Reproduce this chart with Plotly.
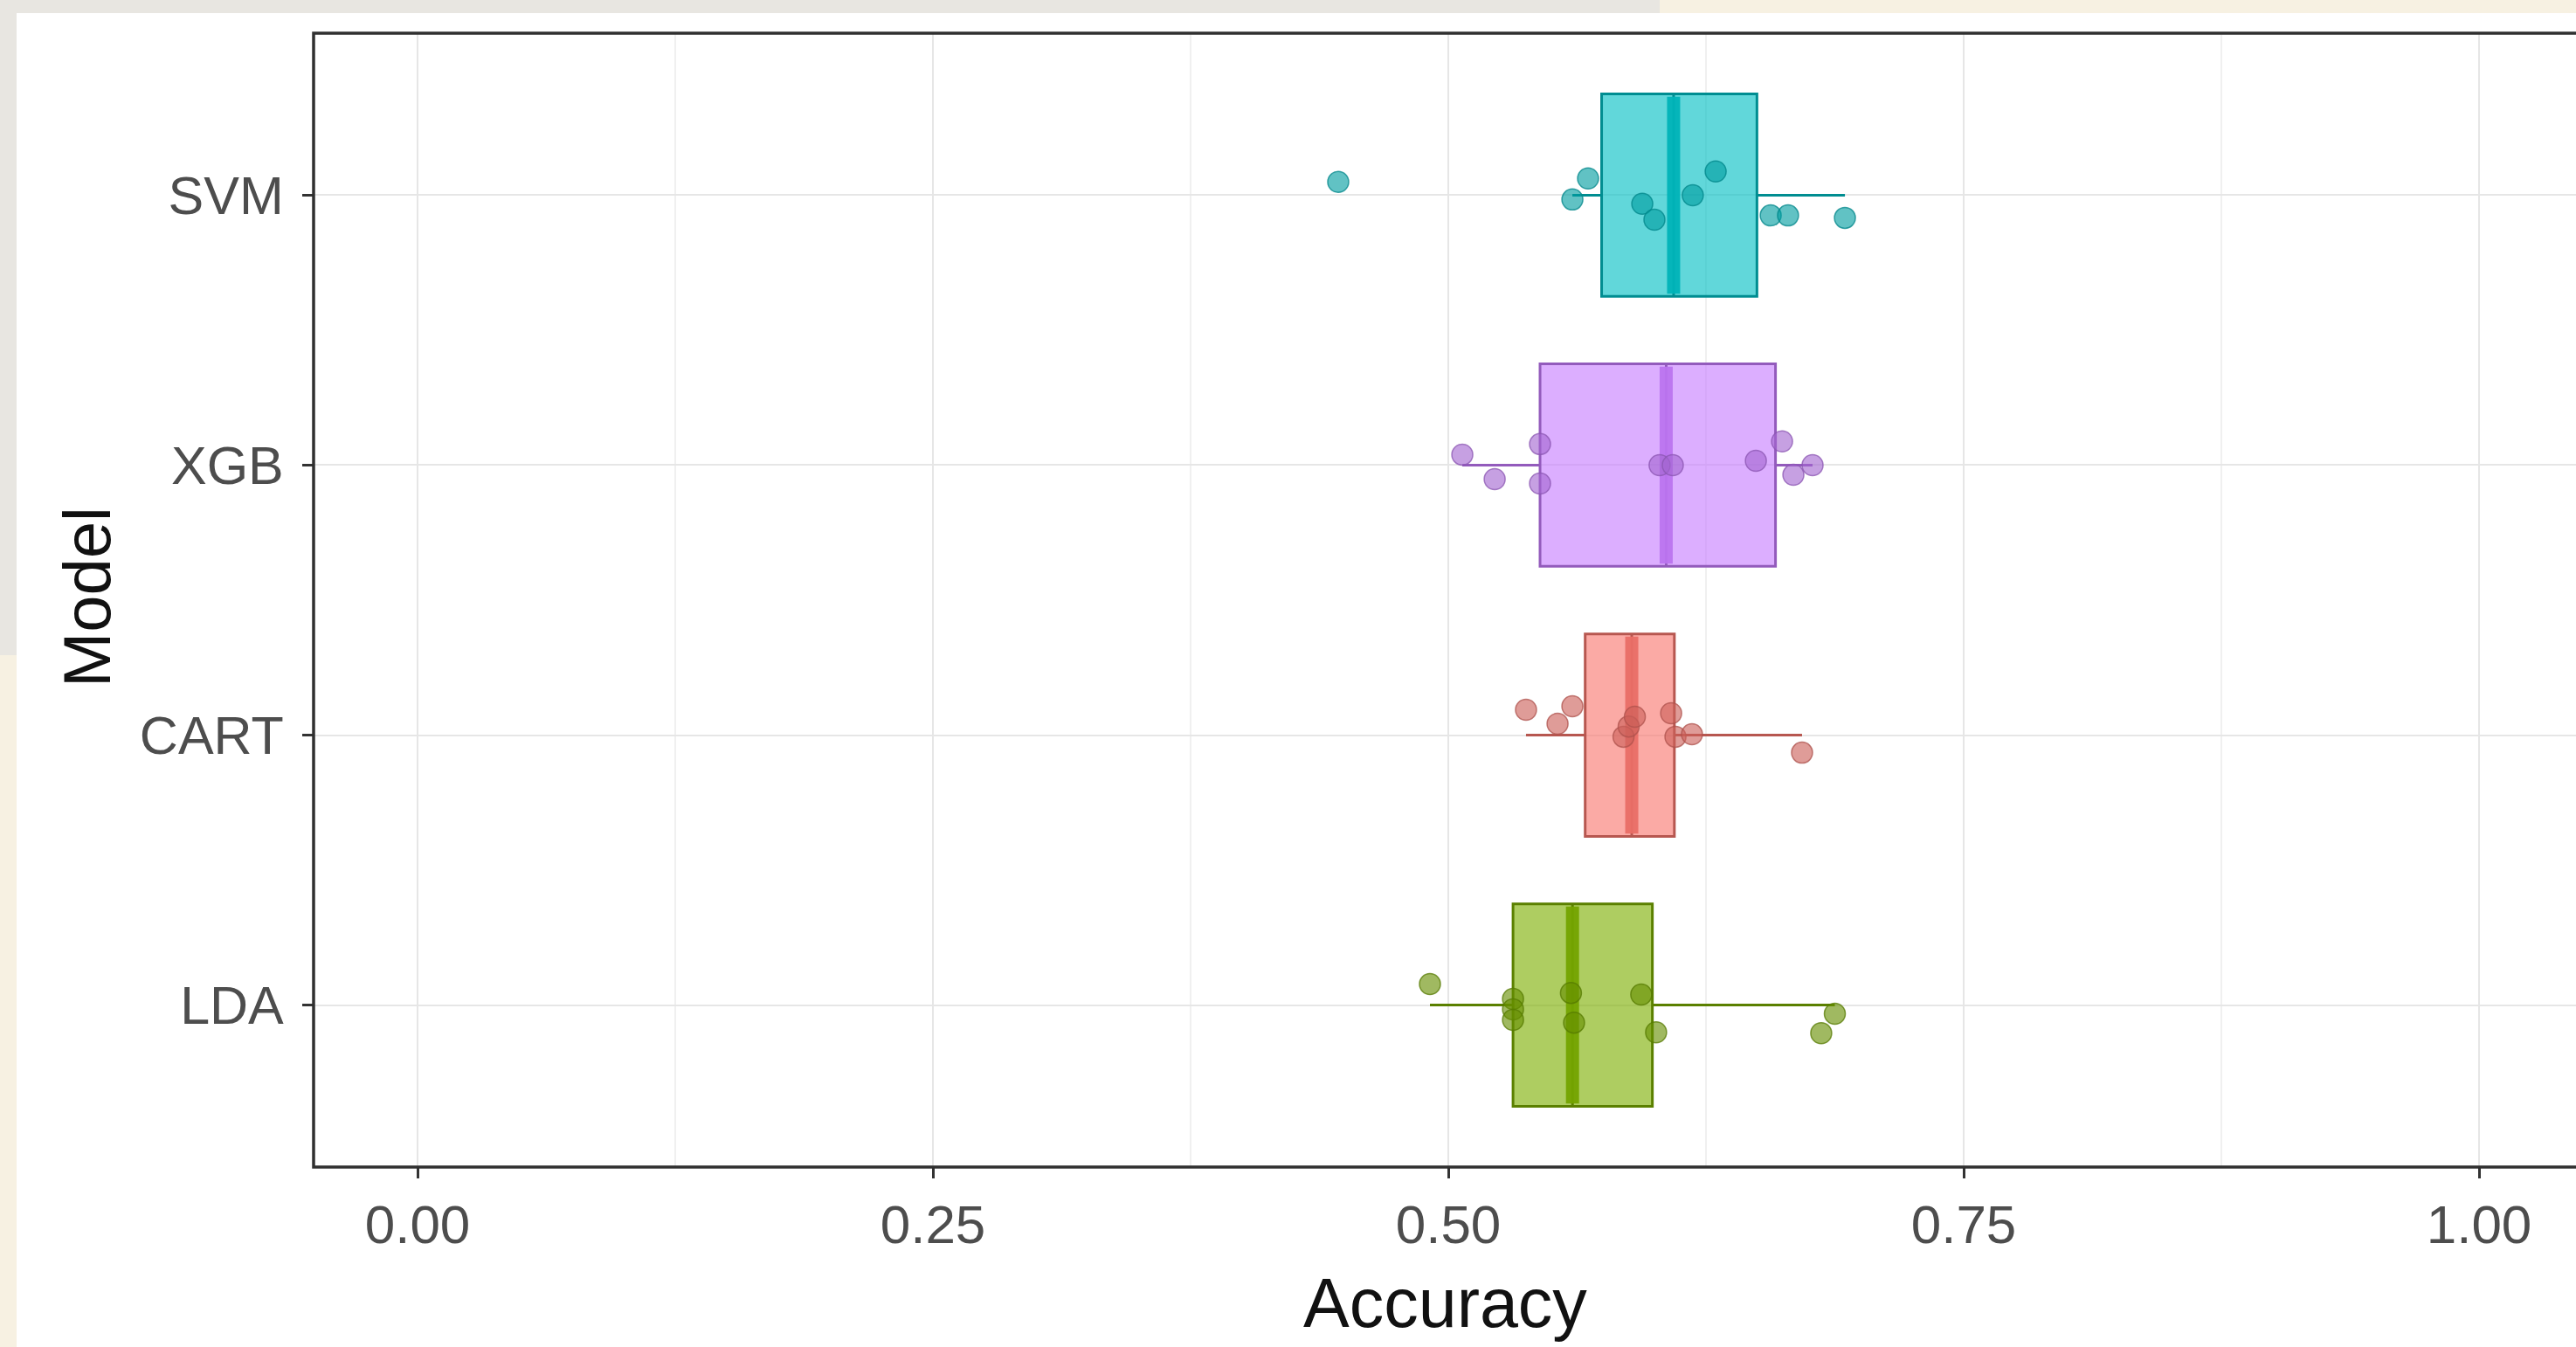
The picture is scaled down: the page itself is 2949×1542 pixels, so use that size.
import numpy as np
import plotly.graph_objects as go

# Models, bottom to top on the category axis
models = ["LDA", "CART", "XGB", "SVM"]

# Resampled accuracy per model, with the vertical jitter offset of each dot
acc_lda = [0.4911, 0.5314, 0.5314, 0.5314, 0.5595, 0.5610, 0.5936, 0.6008, 0.6809, 0.6875]
jit_lda = [0.078, 0.023, -0.016, -0.055, 0.045, -0.065, 0.039, -0.101, -0.104, -0.032]

acc_cart = [0.5377, 0.5530, 0.5602, 0.5850, 0.5875, 0.5905, 0.6081, 0.6102, 0.6182, 0.6716]
jit_cart = [0.094, 0.042, 0.107, -0.006, 0.032, 0.068, 0.081, -0.006, 0.003, -0.065]

acc_xgb = [0.5068, 0.5225, 0.5445, 0.5445, 0.6025, 0.6089, 0.6492, 0.6619, 0.6674, 0.6767]
jit_xgb = [0.039, -0.052, 0.078, -0.068, 0.0, 0.0, 0.016, 0.088, -0.036, 0.0]

acc_svm = [0.4466, 0.5602, 0.5678, 0.5941, 0.6000, 0.6186, 0.6297, 0.6564, 0.6648, 0.6924]
jit_svm = [0.049, -0.016, 0.062, -0.032, -0.091, 0.0, 0.088, -0.075, -0.075, -0.084]

x_ticks = [0.0, 0.25, 0.5, 0.75, 1.0]
x_tick_labels = ["0.00", "0.25", "0.50", "0.75", "1.00"]

accuracy = {"LDA": acc_lda, "CART": acc_cart, "XGB": acc_xgb, "SVM": acc_svm}
jitter = {"LDA": jit_lda, "CART": jit_cart, "XGB": jit_xgb, "SVM": jit_svm}

# ggplot-style hue palette (levels in alphabetical order)
hue = {
    "CART": (248, 118, 109),
    "LDA": (124, 174, 0),
    "SVM": (0, 191, 196),
    "XGB": (199, 124, 255),
}


def rgba(c, a=1.0, k=1.0):
    return "rgba(%d,%d,%d,%.3f)" % (c[0] * k, c[1] * k, c[2] * k, a)


def box_stats(vals):
    """Quartiles (R type 7) and Tukey whisker ends."""
    v = np.sort(np.asarray(vals, dtype=float))
    q1, med, q3 = np.percentile(v, [25, 50, 75])
    iqr = q3 - q1
    lo = v[v >= q1 - 1.5 * iqr].min()
    hi = v[v <= q3 + 1.5 * iqr].max()
    return q1, med, q3, lo, hi


W, H = 2949, 1542
L, T, B_PX = 359, 38, 1336          # plot area edges in pixels
R_PX = W
BOX_W = 0.75
FONT = "Liberation Sans, Arial, sans-serif"


def xp(px):
    return (px - L) / (R_PX - L)


def yp(py):
    return (B_PX - py) / (B_PX - T)


fig = go.Figure()

for i, m in enumerate(models):
    pos = i + 1
    c = hue[m]
    vals = accuracy[m]
    q1, med, q3, lo, hi = box_stats(vals)
    fig.add_trace(go.Box(
        y=[pos], q1=[q1], median=[med], q3=[q3],
        lowerfence=[lo], upperfence=[hi],
        orientation="h", width=BOX_W, whiskerwidth=0,
        fillcolor=rgba(c, 0.62),
        line=dict(color=rgba(c, 1.0, 0.74), width=3),
        hoverinfo="skip", showlegend=False,
    ))
    fig.add_trace(go.Scatter(
        x=[med, med], y=[pos - BOX_W / 2 + 0.01, pos + BOX_W / 2 - 0.01],
        mode="lines", line=dict(color=rgba(c, 0.95, 0.94), width=15),
        hoverinfo="skip", showlegend=False,
    ))
    fig.add_trace(go.Scatter(
        x=vals, y=[pos + j for j in jitter[m]], mode="markers",
        marker=dict(size=24, color=rgba(c, 0.62, 0.82),
                    line=dict(color=rgba(c, 0.75, 0.7), width=1.5)),
        hoverinfo="skip", showlegend=False,
    ))

shapes = [
    # slide background strips around the white card
    dict(type="rect", xref="paper", yref="paper", x0=xp(0), x1=xp(W + 50),
         y0=yp(W), y1=yp(-50), fillcolor="#F7F1E2", line_width=0, layer="below"),
    dict(type="rect", xref="paper", yref="paper", x0=xp(0), x1=xp(1900),
         y0=yp(15), y1=yp(-50), fillcolor="#E8E6E1", line_width=0, layer="below"),
    dict(type="rect", xref="paper", yref="paper", x0=xp(0), x1=xp(19),
         y0=yp(750), y1=yp(-50), fillcolor="#E8E6E1", line_width=0, layer="below"),
    # white card
    dict(type="rect", xref="paper", yref="paper", x0=xp(19), x1=xp(W + 50),
         y0=yp(H + 50), y1=yp(15), fillcolor="white", line_width=0, layer="below"),
    # panel border (right edge runs past the page)
    dict(type="rect", xref="paper", yref="paper", x0=0, x1=1.02, y0=0, y1=1,
         line=dict(color="#303030", width=3.5), fillcolor="rgba(0,0,0,0)",
         layer="above"),
]

x_lo = (L - 478) / 2360.0
x_hi = (R_PX - 478) / 2360.0

fig.update_layout(
    width=W, height=H,
    margin=dict(l=L, r=W - R_PX, t=T, b=H - B_PX, pad=0),
    paper_bgcolor="#F7F1E2", plot_bgcolor="rgba(0,0,0,0)",
    shapes=shapes,
    font=dict(family=FONT),
    xaxis=dict(
        range=[x_lo, x_hi], tickvals=x_ticks, ticktext=x_tick_labels,
        showgrid=True, gridcolor="#E6E6E6", gridwidth=2.2,
        minor=dict(tick0=0.125, dtick=0.25, showgrid=True,
                   gridcolor="#F0F0F0", gridwidth=1.5),
        zeroline=False, showline=False,
        ticks="outside", ticklen=12, tickwidth=2.5, tickcolor="#333333",
        tickfont=dict(size=62, color="#4D4D4D", family=FONT),
        fixedrange=True,
    ),
    yaxis=dict(
        range=[0.4, 4.6], tickvals=[1, 2, 3, 4], ticktext=models,
        showgrid=True, gridcolor="#E6E6E6", gridwidth=2.2,
        zeroline=False, showline=False,
        ticks="outside", ticklen=12, tickwidth=2.5, tickcolor="#333333",
        ticklabelstandoff=9,
        tickfont=dict(size=61, color="#4D4D4D", family=FONT),
        fixedrange=True,
    ),
    annotations=[
        dict(text="Accuracy", xref="paper", yref="paper", x=0.5, y=yp(1491),
             xanchor="center", yanchor="middle", showarrow=False,
             font=dict(size=79, color="#111111", family=FONT)),
        dict(text="Model", xref="paper", yref="paper", x=xp(100), y=yp(684),
             xanchor="center", yanchor="middle", showarrow=False, textangle=-90,
             font=dict(size=76, color="#111111", family=FONT)),
    ],
)

fig.write_html("out.html")
